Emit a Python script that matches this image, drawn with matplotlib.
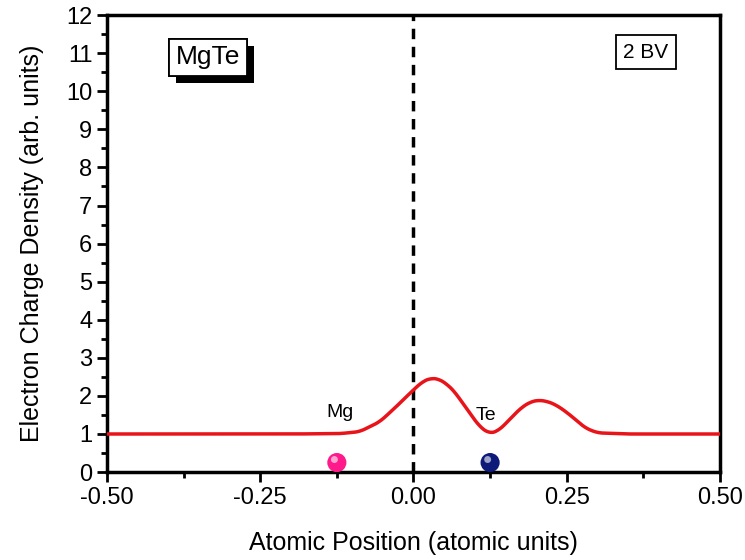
import numpy as np
import matplotlib.pyplot as plt
import matplotlib.patheffects as pe
from matplotlib.ticker import MultipleLocator

plt.rcParams['font.family'] = ['Liberation Sans', 'DejaVu Sans']

# curve
x_pos = [-0.50, -0.40, -0.30, -0.20, -0.12, -0.088, -0.055, -0.028, 0.0, 0.015, 0.029, 0.042,
         0.053, 0.068, 0.08, 0.095, 0.108, 0.124, 0.138, 0.151, 0.165, 0.178, 0.192, 0.203,
         0.218, 0.233, 0.25, 0.265, 0.28, 0.30, 0.35, 0.40, 0.50]
density = [1.0, 1.0, 1.0, 1.0, 1.01, 1.06, 1.32, 1.72, 2.16, 2.38, 2.47, 2.44,
           2.33, 2.10, 1.81, 1.48, 1.19, 1.01, 1.08, 1.28, 1.52, 1.72, 1.85, 1.89,
           1.86, 1.76, 1.57, 1.37, 1.16, 1.03, 1.0, 1.0, 1.0]

atoms = ['Mg', 'Te']
atom_x = [-0.125, 0.125]
atom_y = [0.25, 0.25]
atom_colors = ['#ff1a8c', '#0d1a7a']
label_x = [-0.12, 0.118]
label_y = [1.33, 1.27]

fig = plt.figure(figsize=(7.45, 5.6), dpi=100)
ax = fig.add_axes([0.1436, 0.157, 0.8228, 0.816])

# smooth the read points a bit for drawing
xs = np.linspace(-0.5, 0.5, 800)
ys = np.interp(xs, x_pos, density)
k = np.ones(15) / 15
ys_s = np.convolve(np.pad(ys, 7, mode='edge'), k, mode='valid')
ax.plot(xs, ys_s, color='#e8141a', lw=2.5, zorder=3)

ax.axvline(0, color='black', lw=2.5, ls=(0, (3, 2.2)), zorder=2)

for name, bx, by, c, lx, ly in zip(atoms, atom_x, atom_y, atom_colors, label_x, label_y):
    ax.scatter(bx, by, s=190, color=c, zorder=4, edgecolors='none')
    ax.scatter(bx - 0.004, by + 0.08, s=25, color='white', alpha=0.6, zorder=5, edgecolors='none')
    ax.text(lx, ly, name, fontsize=14, ha='center', va='bottom', zorder=6)

t = ax.text(0.165, 0.908, 'MgTe', transform=ax.transAxes, fontsize=19, ha='center', va='center',
            bbox=dict(boxstyle='square,pad=0.25', fc='white', ec='black', lw=1.3))
t.get_bbox_patch().set_path_effects([pe.withSimplePatchShadow(offset=(5, -5), shadow_rgbFace='black', alpha=1.0),
                                     pe.Normal()])
ax.text(0.879, 0.919, '2 BV', transform=ax.transAxes, fontsize=15, ha='center', va='center',
        bbox=dict(boxstyle='square,pad=0.35', fc='white', ec='black', lw=1.3))

ax.set_xlim(-0.5, 0.5)
ax.set_ylim(0, 12)
ax.set_xticks([-0.5, -0.25, 0, 0.25, 0.5])
ax.set_xticklabels(['-0.50', '-0.25', '0.00', '0.25', '0.50'])
ax.set_yticks(range(13))
ax.xaxis.set_minor_locator(MultipleLocator(0.125))
ax.yaxis.set_minor_locator(MultipleLocator(0.5))
ax.tick_params(which='major', direction='out', length=7, width=2, labelsize=17, top=False, right=False)
ax.tick_params(which='minor', direction='out', length=4, width=2, top=False, right=False)
for s in ax.spines.values():
    s.set_linewidth(2.5)

ax.set_xlabel('Atomic Position (atomic units)', fontsize=18, labelpad=16)
ax.set_ylabel('Electron Charge Density (arb. units)', fontsize=18, labelpad=16)

fig.savefig('out.png', dpi=100)
